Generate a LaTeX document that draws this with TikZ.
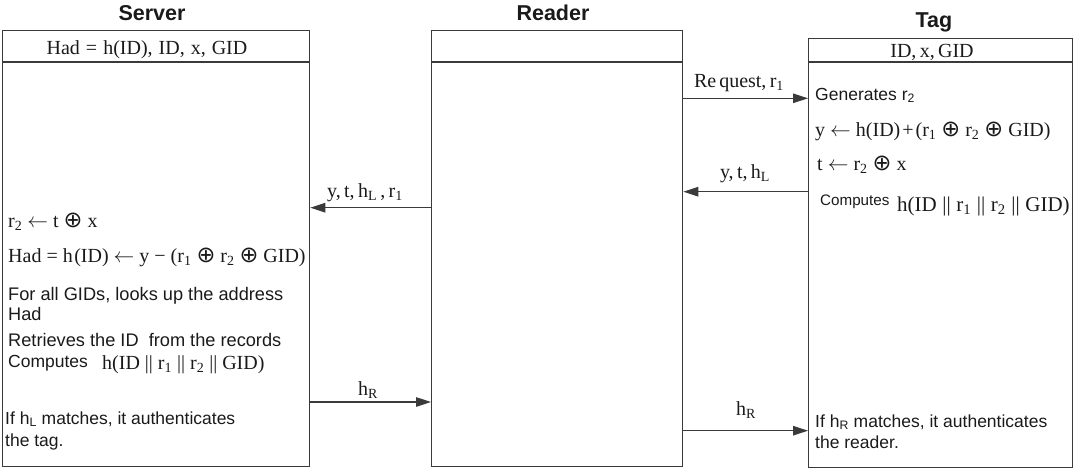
\documentclass[tikz,border=0pt]{standalone}
\usepackage{fontspec}
\setmainfont{Liberation Serif}
\setsansfont{Liberation Sans}
\newfontfamily\mysymf{DejaVu Sans}
\usetikzlibrary{arrows.meta}
\definecolor{linec}{HTML}{3A3A3A}
\definecolor{txtc}{HTML}{1A1A1A}
\newcommand{\mysf}{\fontsize{17.5}{21}\sffamily\selectfont}
\newcommand{\mysfb}{\fontsize{18.2}{22}\sffamily\selectfont}
\newcommand{\mysfs}{\fontsize{15.2}{18}\sffamily\selectfont}
\newcommand{\mymth}{\fontsize{20}{24}\rmfamily\selectfont}
\newcommand{\mymthb}{\fontsize{21}{25}\rmfamily\selectfont}
\newcommand{\myttl}{\fontsize{21.5}{25}\sffamily\bfseries\selectfont}
\newcommand{\myop}{{\mysymf\fontsize{22.5}{24}\selectfont ⊕}}
\newcommand{\myla}{$\leftarrow$}
\newcommand{\mygap}{\hspace{5pt}}
\newcommand{\mygapb}{\hspace{5.6pt}}
\tikzset{
  boxshape/.style={draw=linec, line width=1.3pt, inner sep=0pt, anchor=north west},
  sepline/.style={draw=linec, line width=1.3pt},
  msg/.style={draw=linec, line width=1.1pt, -{Triangle[length=15pt,width=9.5pt]}},
  ttl/.style={anchor=base, inner sep=0pt, text=txtc, font=\myttl},
  lbl/.style={anchor=base, inner sep=0pt, text=txtc, font=\mymth},
  mtxt/.style={anchor=base west, inner sep=0pt, text=txtc, font=\mymth},
  stxt/.style={anchor=base west, inner sep=0pt, text=txtc, font=\mysf},
}
\begin{document}
\begin{tikzpicture}[x=1pt,y=-1pt]
\useasboundingbox (0,0) rectangle (1074,472);
% boxes
\node[boxshape, minimum width=307pt, minimum height=436pt] (server) at (2,30) {};
\node[boxshape, minimum width=251pt, minimum height=436pt] (reader) at (431,30) {};
\node[boxshape, minimum width=264pt, minimum height=429pt] (tag) at (808,37.5) {};
\draw[sepline] (server.west |- 0,62) -- (server.east |- 0,62);
\draw[sepline] (reader.west |- 0,62) -- (reader.east |- 0,62);
\draw[sepline] (tag.west |- 0,62) -- (tag.east |- 0,62);
% titles
\node[ttl] (tserver) at (152,20) {Server};
\node[ttl] (treader) at (553,20) {Reader};
\node[ttl] (ttag) at (934,27) {Tag};
% headers
\node[lbl] (hserver) at (147,54) {Had\hspace{6pt}=\hspace{6pt}h(ID),\hspace{6pt}ID,\hspace{6pt}x,\hspace{6pt}GID};
\node[lbl] (htag) at (932,57) {ID,\,x,\,GID};
% messages
\draw[msg] (reader.east |- 0,98.3) -- (tag.west |- 0,98.3);
\draw[msg] (tag.west |- 0,191.7) -- (reader.east |- 0,191.7);
\draw[msg] (reader.west |- 0,207.7) -- (server.east |- 0,207.7);
\draw[msg] (server.east |- 0,402) -- (reader.west |- 0,402);
\draw[msg] (reader.east |- 0,430.7) -- (tag.west |- 0,430.7);
\node[lbl] (l1) at (739,87) {Re\hspace{3pt}quest,\,r\textsubscript{1}};
\node[lbl] (l2) at (745,178) {y,\,t,\,h\textsubscript{L}};
\node[lbl] (l3) at (365,197) {y,\,t,\,h\textsubscript{L}\,,\,r\textsubscript{1}};
\node[lbl] (l4) at (368,395) {h\textsubscript{R}};
\node[lbl] (l5) at (746,415) {h\textsubscript{R}};
% server texts
\node[mtxt] (s1) at (8,227) {r\textsubscript{2}\mygap\myla\mygap t\mygap\myop\mygap x};
\node[mtxt] (s2) at (8,262) {Had\mygap=\mygap h\hspace{1.5pt}(ID)\mygap\myla\mygap y\mygap−\mygap(r\textsubscript{1}\mygap\myop\mygap r\textsubscript{2}\mygap\myop\mygap GID)};
\node[stxt, font=\mysfb] (s3) at (8,300) {For all GIDs, looks up the address};
\node[stxt, font=\mysfb] (s4) at (8,320) {Had};
\node[stxt, font=\mysfb] (s5) at (8,346) {Retrieves the ID\ \ from the records};
\node[stxt] (s6) at (8,367) {Computes};
\node[mtxt] (s7) at (102,369) {h(ID\mygap||\mygap r\textsubscript{1}\mygap||\mygap r\textsubscript{2}\mygap||\mygap GID)};
\node[stxt] (s8) at (5,424) {If h\textsubscript{L} matches, it authenticates};
\node[stxt] (s9) at (5,446) {the tag.};
% tag texts
\node[stxt] (t1) at (815,100) {Generates r\textsubscript{2}};
\node[mtxt] (t2) at (815,136) {y\mygap\myla\mygap h(ID)\hspace{2pt}+\hspace{2pt}(r\textsubscript{1}\mygap\myop\mygap r\textsubscript{2}\mygap\myop\mygap GID)};
\node[mtxt] (t3) at (817,170) {t\mygap\myla\mygap r\textsubscript{2}\mygap\myop\mygap x};
\node[stxt, font=\mysfs] (t4) at (820,205) {Computes};
\node[mtxt, font=\mymthb] (t5) at (897,211) {h(ID\mygapb||\mygapb r\textsubscript{1}\mygapb||\mygapb r\textsubscript{2}\mygapb||\mygapb GID)};
\node[stxt] (t6) at (815,427) {If h\textsubscript{R} matches, it authenticates};
\node[stxt] (t7) at (815,448) {the reader.};
\end{tikzpicture}
\end{document}
